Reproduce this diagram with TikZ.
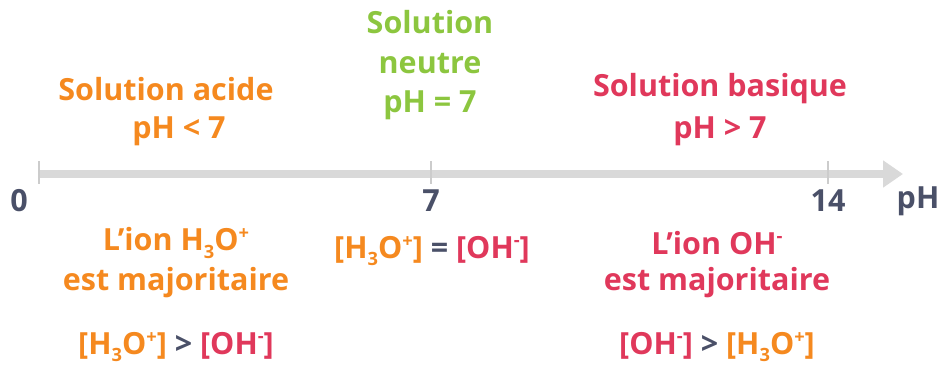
\documentclass[tikz,border=0pt]{standalone}
\usepackage{fontspec}
\setmainfont{Open Sans}
\usetikzlibrary{arrows.meta}
\definecolor{acid}{HTML}{F5891F}
\definecolor{neut}{HTML}{8CC63F}
\definecolor{base}{HTML}{E0385B}
\definecolor{axisc}{HTML}{D9D9D9}
\definecolor{tickc}{HTML}{CCCCCC}
\definecolor{numc}{HTML}{4A5068}
\newcommand{\hthree}{H\raisebox{-0.45ex}{\scalebox{0.6}{3}}O\raisebox{0.65ex}{\scalebox{0.6}{+}}}
\newcommand{\ohm}{OH\raisebox{0.7ex}{\scalebox{0.6}{-}}}
\tikzset{
  lbl/.style={font=\fontsize{30.5}{36}\selectfont\bfseries, align=center, inner sep=0pt, anchor=center},
  num/.style={lbl, text=numc},
}
\begin{document}
\begin{tikzpicture}[x=1pt,y=-1pt]
\useasboundingbox (0,0) rectangle (944,373);
\coordinate (a0) at (38,174);
\coordinate (aend) at (903,174);
\draw[axisc, line width=8pt, -{Triangle[length=20pt,width=26pt]}] (a0) -- (aend);
\foreach \x/\n in {39/t0,431/t7,828/t14}{
  \draw[tickc, line width=2pt] (\x,161) -- (\x,184);
}
\node[num] (n0) at (19,201) {0};
\node[num] (n7) at (431,201) {7};
\node[num] (n14) at (828,201) {14};
\node[num] (nph) at (918,201) {pH};

\node[lbl, text=acid] (acid1) at (166,89) {Solution acide};
\node[lbl, text=acid] (acid2) at (179,131) {pH < 7};
\node[lbl, text=neut] (neu1) at (430,22) {Solution};
\node[lbl, text=neut] (neu2) at (430,64) {neutre};
\node[lbl, text=neut] (neu3) at (430,105) {pH = 7};
\node[lbl, text=base] (bas1) at (720,89) {Solution basique};
\node[lbl, text=base] (bas2) at (720,131) {pH > 7};

\node[lbl, text=acid] (ia1) at (176,243) {L’ion \hthree};
\node[lbl, text=acid] (ia2) at (176,283) {est majoritaire};
\node[lbl] (ca) at (176,347) {\textcolor{acid}{[\hthree]} \textcolor{numc}{>} \textcolor{base}{[\ohm]}};
\node[lbl] (cn) at (432,251) {\textcolor{acid}{[\hthree]} \textcolor{numc}{=} \textcolor{base}{[\ohm]}};
\node[lbl, text=base] (ib1) at (717,243) {L’ion \ohm};
\node[lbl, text=base] (ib2) at (717,283) {est majoritaire};
\node[lbl] (cb) at (717,347) {\textcolor{base}{[\ohm]} \textcolor{numc}{>} \textcolor{acid}{[\hthree]}};
\end{tikzpicture}
\end{document}
